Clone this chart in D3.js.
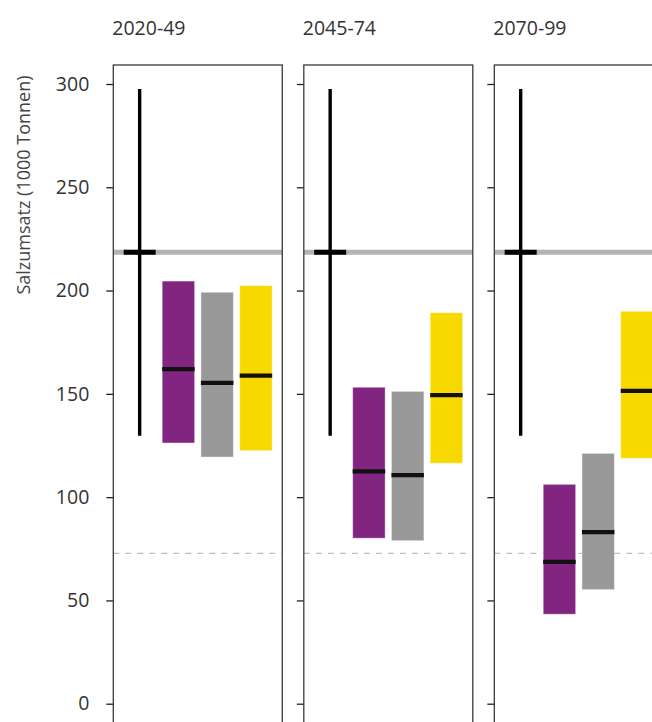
<!DOCTYPE html>
<html><head><meta charset="utf-8">
<script src="https://cdn.jsdelivr.net/npm/d3@7"></script>
<style>
html,body{margin:0;padding:0;background:#fff;}
svg{display:block;}
text{font-family:"Open Sans",sans-serif;}
</style></head>
<body>
<svg id="c" width="652" height="722"></svg>
<script>
// ---- data ----
const periods = ["2020-49", "2045-74", "2070-99"];
const scenarios = ["s1", "s2", "s3"];
const scenarioColors = ["#822581", "#999999", "#f7d900"];
// observed reference (same in each panel)
const obsMin = 129.7, obsMax = 297.6, obsMean = 218.5;
// scenario ranges per period: [low, median, high]
const lowVals = [[126.2, 119.4, 122.5], [80.1, 78.9, 116.4], [43.3, 55.2, 118.8]];
const medVals = [[162.0, 155.3, 158.8], [112.5, 110.7, 149.4], [68.7, 83.1, 151.4]];
const highVals = [[204.6, 199.2, 202.4], [153.2, 151.2, 189.3], [106.2, 121.2, 190.0]];
const dashedRef = 72.8;
const yTicks = [0, 50, 100, 150, 200, 250, 300];
const yLabel = "Salzumsatz (1000 Tonnen)";

// ---- layout ----
const svg = d3.select("#c");
const y = d3.scaleLinear().domain([0, 300]).range([703.7, 84]);
const panelX = d3.scaleBand().domain(periods).range([113.3, 663.3]).paddingInner(0.113).paddingOuter(0);
const pw = panelX.bandwidth();
const inner = d3.scalePoint().domain(["obs"].concat(scenarios)).range([0, pw]).padding(0.68);
const barW = 32.5;
const panelTop = 65, panelBottom = 740;

periods.forEach((p, pi) => {
  const g = svg.append("g").attr("transform", `translate(${panelX(p)},0)`);
  // title
  g.append("text").attr("x", -1).attr("y", 35).attr("fill", "#333")
    .style("font-size", "19.5px").text(p);
  // ticks
  const ax = d3.axisLeft(y).tickValues(yTicks).tickSize(7).tickPadding(17)
    .tickFormat(pi === 0 ? d3.format("d") : () => "");
  const axg = g.append("g").call(ax);
  axg.select(".domain").remove();
  axg.selectAll(".tick line").attr("stroke", "#222").attr("stroke-width", 1.3);
  axg.selectAll(".tick text").attr("fill", "#333").style("font-size", "19.5px")
    .style("font-family", "'Open Sans',sans-serif");
  // dashed reference
  g.append("line").attr("x1", 0).attr("x2", pw).attr("y1", y(dashedRef)).attr("y2", y(dashedRef))
    .attr("stroke", "#bdbdbd").attr("stroke-width", 1.2).attr("stroke-dasharray", "6,6");
  // gray mean line
  g.append("line").attr("x1", 0).attr("x2", pw).attr("y1", y(obsMean)).attr("y2", y(obsMean))
    .attr("stroke", "#b3b3b3").attr("stroke-width", 5);
  // whisker
  const ox = inner("obs");
  g.append("line").attr("x1", ox).attr("x2", ox).attr("y1", y(obsMax)).attr("y2", y(obsMin))
    .attr("stroke", "#000").attr("stroke-width", 3.4);
  g.append("line").attr("x1", ox - 16).attr("x2", ox + 16).attr("y1", y(obsMean)).attr("y2", y(obsMean))
    .attr("stroke", "#000").attr("stroke-width", 5);
  // bars
  scenarios.forEach((s, si) => {
    const cx = inner(s);
    g.append("rect").attr("x", cx - barW / 2).attr("width", barW)
      .attr("y", y(highVals[pi][si])).attr("height", y(lowVals[pi][si]) - y(highVals[pi][si]))
      .attr("fill", scenarioColors[si]).attr("stroke", "#fff").attr("stroke-opacity", 0.45).attr("stroke-width", 1);
    g.append("line").attr("x1", cx - barW / 2).attr("x2", cx + barW / 2)
      .attr("y1", y(medVals[pi][si])).attr("y2", y(medVals[pi][si]))
      .attr("stroke", "#111").attr("stroke-width", 4.2);
  });
  // panel border
  g.append("rect").attr("x", 0).attr("y", panelTop).attr("width", pw).attr("height", panelBottom - panelTop)
    .attr("fill", "none").attr("stroke", "#3a3a3a").attr("stroke-width", 1.3);
});

svg.append("text").attr("transform", "translate(30,185) rotate(-90)")
  .attr("text-anchor", "middle").attr("fill", "#444").style("font-size", "18px").text(yLabel);
</script>
</body></html>
